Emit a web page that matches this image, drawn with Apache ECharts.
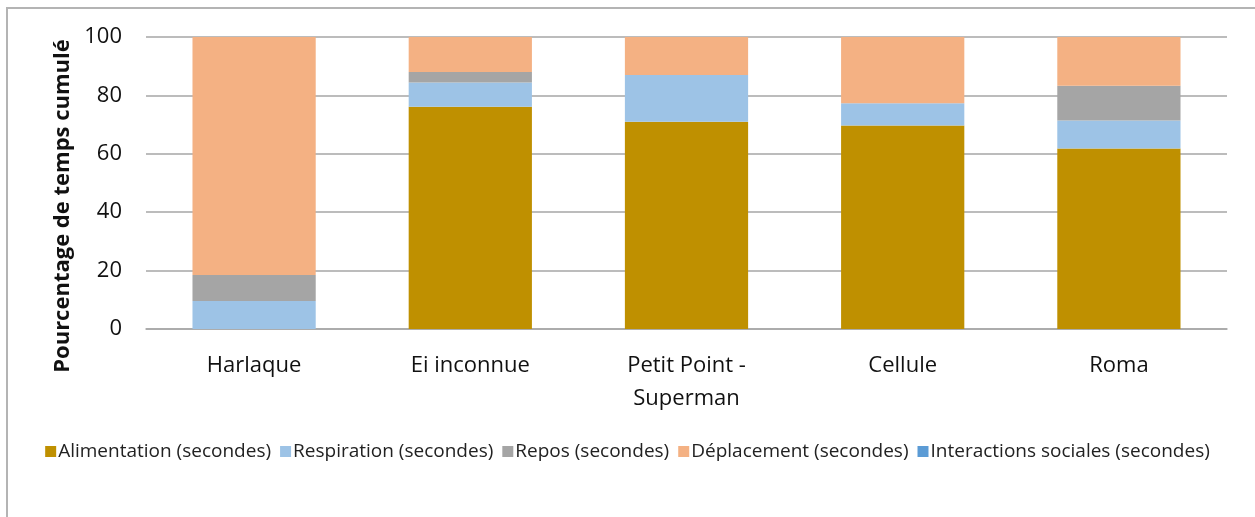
<!DOCTYPE html>
<html>
<head>
<meta charset="utf-8">
<script src="https://cdn.jsdelivr.net/npm/echarts@6/dist/echarts.min.js"></script>
<style>
  html, body { margin: 0; padding: 0; background: #fff; overflow: hidden; }
  #frame {
    position: absolute; left: 6px; top: 7px; width: 1300px; height: 600px;
    border-left: 2px solid #b4b4b4; border-top: 2px solid #b4b4b4;
  }
  #main { position: absolute; left: 0; top: 0; width: 1255px; height: 517px; }
</style>
</head>
<body>
<div id="frame"></div>
<div id="main"></div>
<script>
var categories = ["Harlaque", "Ei inconnue", "Petit Point -\nSuperman", "Cellule", "Roma"];
var alimentation = [0, 76.1, 71.0, 69.7, 61.8];
var respiration = [9.6, 8.3, 16.0, 7.6, 9.6];
var repos = [8.9, 3.6, 0, 0, 11.9];
var deplacement = [81.5, 12.0, 13.0, 22.7, 16.7];
var interactions = [0, 0, 0, 0, 0];
var yTicks = [0, 20, 40, 60, 80, 100];

var fontFam = "'Open Sans', sans-serif";

function serie(name, data, color) {
  return {
    name: name,
    type: "bar",
    stack: "total",
    barWidth: "57%",
    data: data,
    itemStyle: { color: color },
    emphasis: { disabled: true }
  };
}

var myChart = echarts.init(document.getElementById("main"));
myChart.setOption({
  animation: false,
  textStyle: { fontFamily: fontFam },
  grid: { left: 146, right: 28, top: 37, bottom: 188 },
  legend: {
    bottom: 51,
    left: "center",
    icon: "rect",
    itemWidth: 11,
    itemHeight: 11,
    itemGap: 9,
    textStyle: { fontSize: 19, color: "#222", fontFamily: fontFam, padding: [0, 0, 0, -3] },
    data: ["Alimentation (secondes)", "Respiration (secondes)", "Repos (secondes)", "Déplacement (secondes)", "Interactions sociales (secondes)"]
  },
  xAxis: {
    type: "category",
    data: categories,
    axisTick: { show: false },
    axisLine: { lineStyle: { color: "#a6a6a6", width: 1.5 } },
    axisLabel: { fontSize: 22, color: "#111", margin: 20, lineHeight: 33, fontFamily: fontFam, interval: 0 }
  },
  yAxis: {
    type: "value",
    min: yTicks[0],
    max: yTicks[yTicks.length - 1],
    interval: 20,
    name: "Pourcentage de temps cumulé",
    nameLocation: "middle",
    nameGap: 72,
    nameTextStyle: { fontSize: 22, fontWeight: "bold", color: "#111", fontFamily: fontFam, padding: [0, 46, 0, 0] },
    axisLine: { show: false },
    axisTick: { show: false },
    axisLabel: { fontSize: 22, color: "#111", margin: 24, fontFamily: fontFam },
    splitLine: { lineStyle: { color: "#a6a6a6", width: 1.5 } }
  },
  series: [
    serie("Alimentation (secondes)", alimentation, "#BF9000"),
    serie("Respiration (secondes)", respiration, "#9DC3E6"),
    serie("Repos (secondes)", repos, "#A5A5A5"),
    serie("Déplacement (secondes)", deplacement, "#F4B183"),
    serie("Interactions sociales (secondes)", interactions, "#5B9BD5")
  ]
});
</script>
</body>
</html>
